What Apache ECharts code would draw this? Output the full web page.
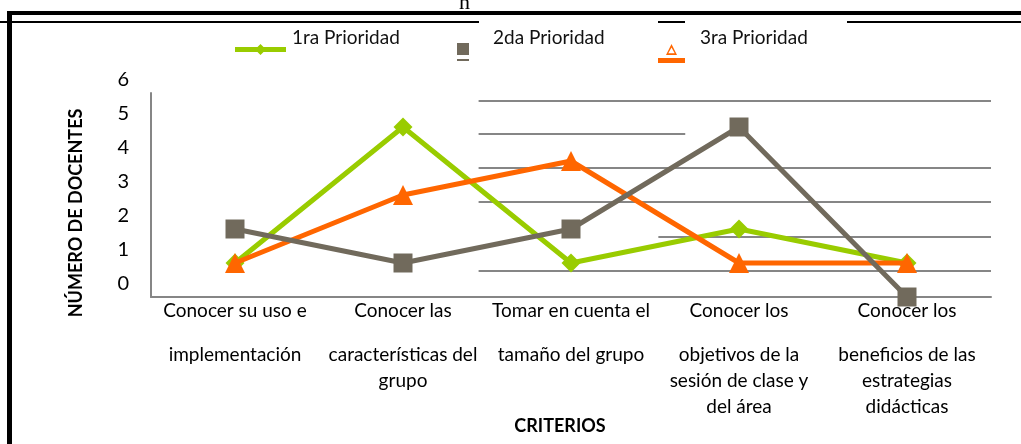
<!DOCTYPE html>
<html>
<head>
<meta charset="utf-8">
<script src="https://cdn.jsdelivr.net/npm/echarts@6/dist/echarts.min.js"></script>
<style>
html, body { margin: 0; padding: 0; background: #fff; }
#chart { width: 1021px; height: 444px; }
</style>
</head>
<body>
<div id="chart"></div>
<script>
// categorias (cada una en lineas)
const categories = [
    ['Conocer su uso e', 'implementación'],
    ['Conocer las', 'características del', 'grupo'],
    ['Tomar en cuenta el', 'tamaño del grupo'],
    ['Conocer los', 'objetivos de la', 'sesión de clase y', 'del área'],
    ['Conocer los', 'beneficios de las', 'estrategias', 'didácticas']
]
const prioridad1 = [1, 5, 1, 2, 1]
const prioridad2 = [2, 1, 2, 5, 0]
const prioridad3 = [1, 3, 4, 1, 1]
const seriesNames = ['1ra Prioridad', '2da Prioridad', '3ra Prioridad']

// lineas de cuadricula desplazadas: [x inicio, x fin, valor y]
const gridSegments = [
    [1.45, 4.5, 5.77],
    [1.45, 2.68, 4.8],
    [1.45, 4.5, 3.79],
    [1.45, 4.5, 2.79],
    [2.52, 4.5, 1.77],
    [1.45, 4.5, 0.77]
]

const font = 'Lato, "Open Sans", sans-serif'
const green = '#99CC00'
const gray = '#716A5C'
const orange = '#FF6600'
const axisGray = '#868686'

let chart = echarts.init(document.getElementById('chart'))

// el punto minimo arriba deja el icono debajo del texto
const dot = 'M0,0H0.01V0.01H0Z '

let legendText = (padLeft) => ({
    fontFamily: font,
    fontSize: 19,
    color: '#111',
    padding: [0, 0, 0, padLeft]
})

let option = {
    animation: false,
    backgroundColor: '#fff',
    grid: {
        left: 151,
        right: 30,
        top: 93,
        bottom: 147
    },
    legend: [
        {
            data: [seriesNames[0]],
            left: 235,
            top: 20,
            padding: 0,
            itemWidth: 51,
            itemHeight: 35,
            icon: 'path://' + dot + 'M0,27H51V32H0Z M25.5,24L31,29.5L25.5,35L20,29.5Z',
            textStyle: legendText(1)
        },
        {
            data: [seriesNames[1]],
            left: 457,
            top: 15,
            padding: 0,
            itemWidth: 12,
            itemHeight: 46,
            icon: 'path://' + dot + 'M0,28H12V40H0Z M0,44H12V46H0Z',
            textStyle: legendText(19)
        },
        {
            data: [seriesNames[2]],
            left: 658,
            top: 13,
            padding: 0,
            itemWidth: 27,
            itemHeight: 50,
            icon: 'path://' + dot + 'M13.5,31L19,42L8,42Z M13.5,34.5L10.3,40.3L16.7,40.3Z M0,45H27V50H0Z',
            textStyle: legendText(10)
        }
    ],
    xAxis: [
        {
            type: 'category',
            data: categories.map(c => c.join('|')),
            axisLine: { lineStyle: { color: axisGray, width: 2 } },
            axisTick: { show: false },
            axisLabel: {
                margin: 1,
                interval: 0,
                formatter: (v) => {
                    let lines = v.split('|')
                    let out = ['{a|' + lines[0] + '}', '{g| }']
                    lines.slice(1).forEach(l => out.push('{a|' + l + '}'))
                    return out.join('\n')
                },
                rich: {
                    a: { fontFamily: font, fontSize: 19, lineHeight: 26, color: '#000' },
                    g: { fontSize: 8, lineHeight: 18 }
                }
            },
            name: 'CRITERIOS',
            nameLocation: 'middle',
            nameGap: 118,
            nameTextStyle: {
                fontFamily: font,
                fontWeight: 'bold',
                fontSize: 18,
                color: '#000',
                padding: [0, 22, 0, 0]
            }
        },
        {
            type: 'value',
            min: -0.5,
            max: 4.5,
            show: false
        }
    ],
    yAxis: {
        type: 'value',
        min: 0,
        max: 6,
        interval: 1,
        axisLine: { show: true, onZero: false, lineStyle: { color: axisGray, width: 2 } },
        axisTick: { show: false },
        splitLine: { show: false },
        axisLabel: {
            margin: 22,
            fontFamily: font,
            fontSize: 20,
            color: '#000',
            verticalAlign: 'bottom',
            lineHeight: 26
        },
        name: 'NÚMERO DE DOCENTES',
        nameLocation: 'middle',
        nameGap: 66,
        nameTextStyle: {
            fontFamily: font,
            fontWeight: 'bold',
            fontSize: 18,
            color: '#000',
            padding: [0, 36, 0, 0]
        }
    },
    series: [
        {
            type: 'lines',
            coordinateSystem: 'cartesian2d',
            xAxisIndex: 1,
            yAxisIndex: 0,
            silent: true,
            z: 1,
            lineStyle: { color: axisGray, width: 2, opacity: 1 },
            data: gridSegments.map(s => ({ coords: [[s[0], s[2]], [s[1], s[2]]] }))
        },
        {
            name: seriesNames[0],
            type: 'line',
            data: prioridad1,
            z: 2,
            symbol: 'diamond',
            symbolSize: 19,
            itemStyle: { color: green },
            lineStyle: { color: green, width: 5 }
        },
        {
            name: seriesNames[1],
            type: 'line',
            data: prioridad2,
            z: 4,
            symbol: 'rect',
            symbolSize: 19,
            itemStyle: { color: gray },
            lineStyle: { color: gray, width: 5 }
        },
        {
            name: seriesNames[2],
            type: 'line',
            data: prioridad3,
            z: 3,
            symbol: 'triangle',
            symbolSize: 20,
            itemStyle: { color: orange },
            lineStyle: { color: orange, width: 5 }
        }
    ],
    graphic: [
        // marco
        { type: 'rect', shape: { x: 8, y: 11, width: 1013, height: 4 }, style: { fill: '#000' } },
        { type: 'rect', shape: { x: 7, y: 11, width: 5, height: 433 }, style: { fill: '#000' } },
        { type: 'rect', shape: { x: 0, y: 21, width: 479, height: 2 }, style: { fill: '#000' } },
        { type: 'rect', shape: { x: 658, y: 21, width: 27, height: 2 }, style: { fill: '#000' } },
        { type: 'rect', shape: { x: 847, y: 21, width: 174, height: 2 }, style: { fill: '#000' } },
        { type: 'text', x: 459, y: -8, style: { text: 'n', fontFamily: '"Liberation Serif", serif', fontSize: 22, fill: '#000' } }
    ]
}
chart.setOption(option)
</script>
</body>
</html>
